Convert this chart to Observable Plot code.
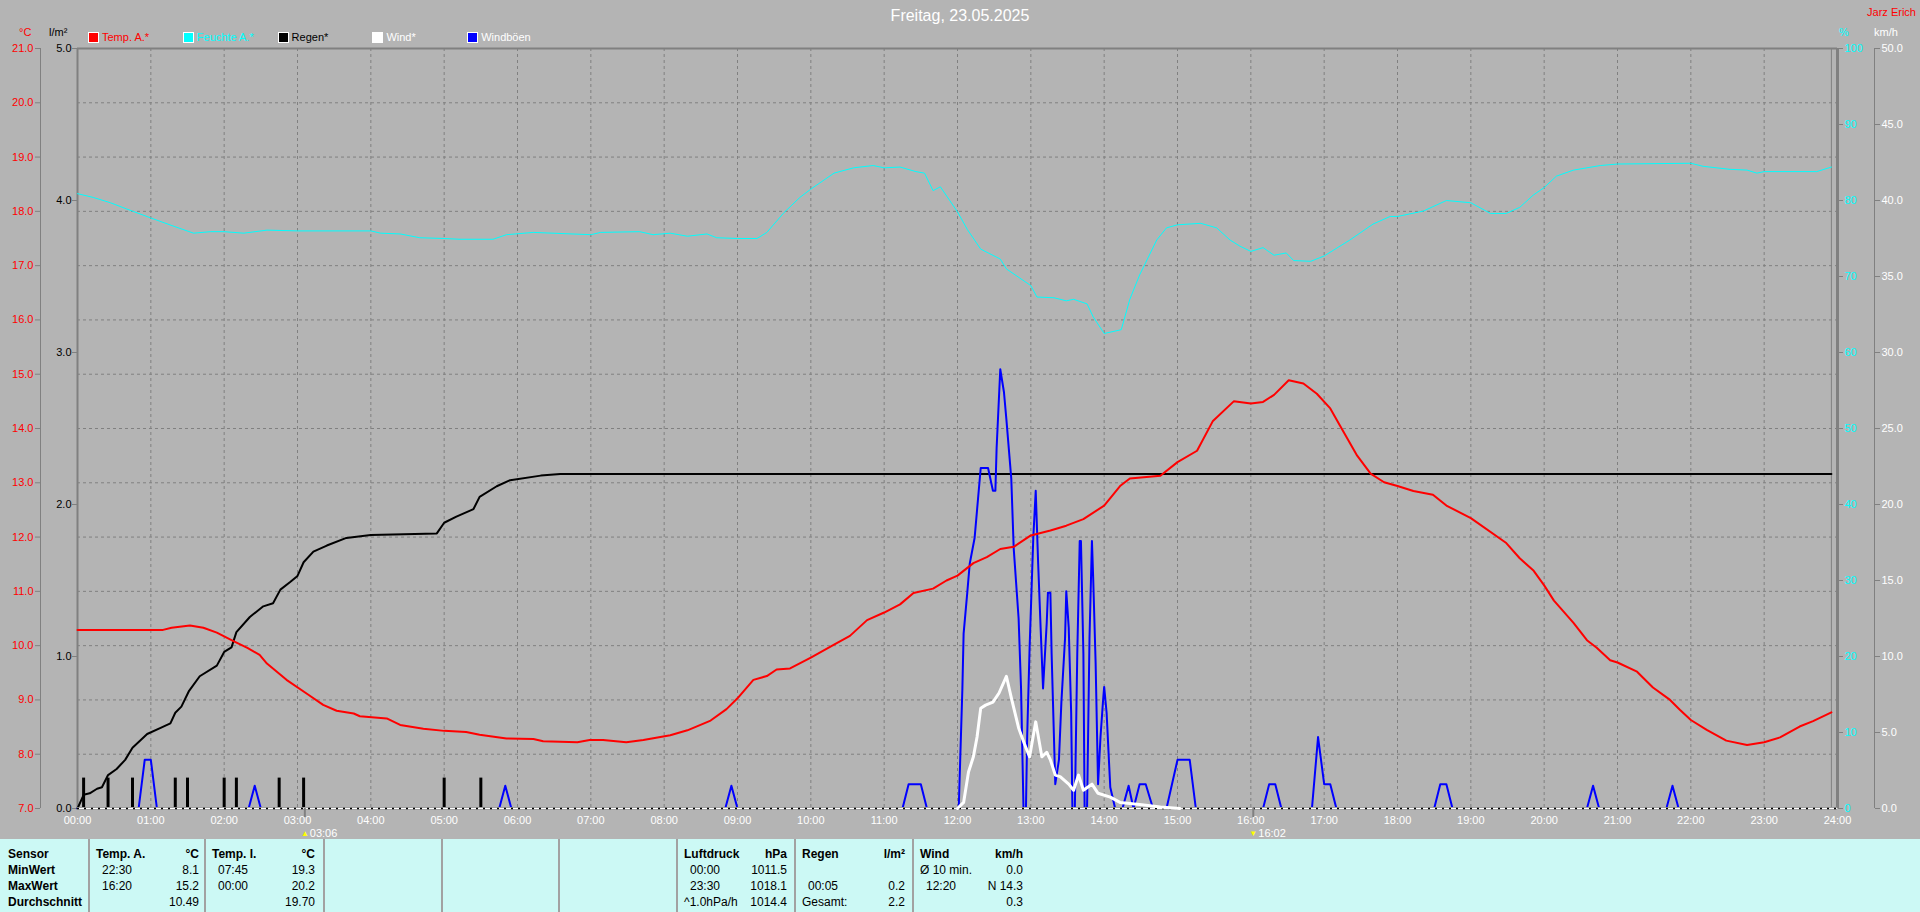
<!DOCTYPE html>
<html>
<head>
<meta charset="utf-8">
<script src="https://cdn.jsdelivr.net/npm/d3@7"></script>
<script src="https://cdn.jsdelivr.net/npm/@observablehq/plot@0.6"></script>
<style>
  body { margin: 0; background: #b4b4b4; font-family: "Liberation Sans", Arial, sans-serif; }
  #wrap { position: relative; width: 1920px; height: 912px; overflow: hidden; background: #b4b4b4; }
  #chart { position: absolute; left: 0; top: 0; }
  .t { position: absolute; white-space: nowrap; font-size: 11px; line-height: 12px; }
  #title { position: absolute; left: 0; top: 7px; width: 1920px; text-align: center; color: #fff; font-size: 16px; line-height: 17px; }
  #table { position: absolute; left: 0; top: 839px; width: 1920px; height: 73px; background: #ccf9f5; }
  .div { position: absolute; top: 0; width: 2px; height: 73px; background: #a2a2a2; }
  .cell { position: absolute; white-space: nowrap; font-size: 12px; line-height: 14px; color: #000; }
  .b { font-weight: bold; }
  .sq { position: absolute; width: 9px; height: 9px; border: 1px solid #fff; }
</style>
</head>
<body>
<div id="wrap">
  <div id="chart"></div>
  <div id="title"></div>
  <div id="table"></div>
</div>
<script>
// ---------------- DATA ----------------
const chartTitle = "Freitag, 23.05.2025";
const author = "Jarz Erich";
const hourLabels = ["00:00","01:00","02:00","03:00","04:00","05:00","06:00","07:00","08:00","09:00","10:00","11:00","12:00",
  "13:00","14:00","15:00","16:00","17:00","18:00","19:00","20:00","21:00","22:00","23:00","24:00"];
const tempTicks = [7,8,9,10,11,12,13,14,15,16,17,18,19,20,21];
const rainTicks = [0,1,2,3,4,5];
const humTicks = [0,10,20,30,40,50,60,70,80,90,100];
const windTicks = [0,5,10,15,20,25,30,35,40,45,50];

const legendNames = ["Temp. A.*","Feuchte A.*","Regen*","Wind*","Windböen"];
const legendColors = ["#ff0000","#00ffff","#000000","#ffffff","#0000ff"];
const legendTextColors = ["#ff0000","#00ffff","#000000","#ffffff","#ffffff"];

// Temperature (°C)
const tempTimes = ["00:00","01:10","01:17","01:32","01:43","01:54","02:08","02:19","02:29","02:35","02:51","03:08","03:21","03:32","03:46","03:51",
  "04:13","04:24","04:43","05:00","05:18","05:29","05:51","06:13","06:21","06:49","06:59","07:10","07:29","07:43","08:05","08:19","08:38",
  "08:51","09:00","09:13","09:24","09:32","09:43","10:00","10:19","10:32","10:46","11:00","11:13","11:24","11:40","11:51","12:00","12:13",
  "12:24","12:35","12:46","13:00","13:16","13:29","13:43","14:00","14:13","14:21","14:46","15:00","15:16","15:29","15:46","16:00","16:10",
  "16:19","16:31","16:43","16:54","17:05","17:13","17:27","17:38","17:49","18:00","18:13","18:29","18:40","19:00","19:29","19:40","19:51",
  "20:00","20:08","20:24","20:35","20:43","20:54","21:00","21:16","21:29","21:43","21:51","22:00","22:13","22:29","22:46","23:00","23:13",
  "23:29","23:40","23:55"];
const tempValues = [10.29,10.29,10.33,10.37,10.33,10.24,10.08,9.96,9.83,9.67,9.37,9.11,8.91,8.80,8.75,8.70,
  8.66,8.54,8.47,8.43,8.41,8.36,8.29,8.28,8.24,8.22,8.26,8.26,8.22,8.26,8.35,8.44,8.62,
  8.83,9.03,9.37,9.44,9.56,9.58,9.78,10.02,10.18,10.47,10.61,10.76,10.97,11.05,11.20,11.29,11.52,
  11.63,11.78,11.82,12.03,12.12,12.21,12.33,12.58,12.94,13.08,13.13,13.38,13.59,14.14,14.50,14.46,14.49,
  14.62,14.89,14.83,14.64,14.37,14.05,13.50,13.17,13.01,12.94,12.85,12.78,12.58,12.35,11.89,11.61,11.39,
  11.11,10.83,10.42,10.10,9.96,9.73,9.69,9.52,9.23,9.00,8.82,8.63,8.45,8.25,8.17,8.22,8.31,
  8.51,8.61,8.77];

// Humidity (%)
const humTimes = ["00:00","00:13","00:27","00:40","01:00","01:19","01:35","01:49","02:00","02:16","02:35","03:00","04:00","04:08","04:24",
  "04:40","05:00","05:13","05:40","05:51","06:13","07:00","07:08","07:40","07:51","08:05","08:19","08:35","08:43","09:00","09:16","09:24",
  "09:38","09:51","10:00","10:19","10:35","10:51","11:00","11:13","11:26","11:33","11:40","11:46","12:00","12:08","12:19","12:35","12:40",
  "13:00","13:05","13:19","13:29","13:35","13:46","13:51","14:00","14:14","14:21","14:29","14:43","14:51","15:00","15:19","15:32","15:43",
  "15:51","16:00","16:10","16:19","16:29","16:35","16:49","17:00","17:21","17:40","17:54","18:00","18:21","18:40","19:00","19:16","19:29",
  "19:40","19:51","20:00","20:10","20:24","20:46","21:00","22:00","22:10","22:32","22:46","22:54","23:00","23:43","23:55"];
const humValues = [80.9,80.4,79.7,78.9,77.7,76.6,75.7,75.9,75.9,75.7,76.1,76.0,76.0,75.7,75.6,
  75.1,75.0,74.9,74.9,75.5,75.8,75.5,75.8,75.9,75.5,75.7,75.3,75.6,75.1,75.0,75.0,75.8,
  78.4,80.4,81.5,83.6,84.3,84.6,84.3,84.4,83.8,83.6,81.3,81.8,78.5,76.2,73.6,72.3,71.0,
  68.8,67.3,67.2,66.8,67.0,66.4,64.7,62.5,63.0,67.0,70.2,74.8,76.4,76.8,77.0,76.4,74.8,
  74.0,73.3,73.8,72.8,73.1,72.1,72.0,72.7,74.8,76.9,77.9,77.9,78.6,80.0,79.7,78.3,78.3,
  79.1,80.7,81.7,83.2,84.0,84.6,84.8,84.9,84.5,84.1,84.0,83.6,83.8,83.8,84.4];

// Cumulative rain (l/m²)
const rainTimes = ["00:00","00:05","00:10","00:16","00:20","00:25","00:32","00:39","00:45","00:57","01:08","01:16","01:20","01:25","01:31",
  "01:40","01:54","02:00","02:06","02:10","02:21","02:32","02:40","02:46","02:54","03:00","03:05","03:13","03:24","03:40","04:00","04:54",
  "05:00","05:10","05:24","05:29","05:43","05:54","06:19","06:35","23:55"];
const rainValues = [0,0.09,0.10,0.13,0.14,0.22,0.26,0.32,0.40,0.49,0.53,0.56,0.63,0.67,0.77,
  0.87,0.94,1.03,1.06,1.16,1.26,1.33,1.35,1.44,1.49,1.53,1.62,1.69,1.73,1.78,1.80,1.81,
  1.88,1.92,1.97,2.05,2.12,2.16,2.19,2.20,2.20];

// Rain per interval (l/m²)
const rainBarTimes = ["00:05","00:25","00:45","01:20","01:30","02:00","02:10","02:45","03:05","05:00","05:30"];
const rainBarValues = [0.2,0.2,0.2,0.2,0.2,0.2,0.2,0.2,0.2,0.2,0.2];

// Wind gusts (km/h)
const gustTimes = ["00:00","00:50","00:55","01:00","01:05","02:20","02:25","02:30","05:45","05:50","05:55","08:50","08:55","09:00",
  "11:15","11:20","11:30","11:35","12:01","12:04","12:05","12:08","12:10","12:14","12:19","12:25","12:29","12:31","12:32","12:35","12:38",
  "12:40","12:44","12:46","12:50","12:52","12:54","12:56","12:57","12:59","13:02","13:04","13:06","13:08","13:10","13:13","13:14","13:16",
  "13:17","13:20","13:23","13:25","13:28","13:29","13:31","13:33","13:34","13:36","13:38","13:40","13:41","13:43","13:44","13:46","13:48",
  "13:50","13:51","13:53","13:55","13:57","13:59","14:00","14:02","14:04","14:05","14:09","14:15","14:20","14:24","14:29","14:34","14:40",
  "14:51","15:00","15:10","15:15","16:10","16:15","16:20","16:25","16:50","16:55","17:00","17:05","17:10","18:30","18:35","18:40","18:45",
  "20:35","20:40","20:45","21:40","21:45","21:50","23:55"];
const gustValues = [0,0,3.2,3.2,0,0,1.5,0,0,1.5,0,0,1.5,0,
  0,1.6,1.6,0,0,7.9,11.5,14.2,16.1,17.8,22.4,22.4,20.9,20.9,23.7,28.9,27.4,
  25.6,21.7,17.1,12.5,7.9,0,0,4.7,10.6,17.8,20.9,16.1,11.9,7.9,12.2,14.2,14.2,
  10.2,1.6,3.2,7.0,11.2,14.3,11.9,6.3,0,0,10.2,17.6,17.6,10.2,0,0,11.2,
  17.6,15.2,9.6,1.6,4.7,7.0,8.0,6.3,3.0,1.4,0,0,1.5,0,1.6,1.6,0,
  0,3.2,3.2,0,0,1.6,1.6,0,0,4.7,1.6,1.6,0,0,1.6,1.6,0,
  0,1.5,0,0,1.5,0,0];

// Mean wind (km/h)
const windTimes = ["12:00","12:05","12:09","12:13","12:16","12:19","12:23","12:29","12:34","12:40","12:44","12:50","12:55","12:59","13:04",
  "13:09","13:13","13:16","13:20","13:24","13:31","13:35","13:39","13:43","13:50","13:55","14:05","14:13","14:29","14:46","15:02"];
const windValues = [0,0.4,2.4,3.4,4.7,6.6,6.8,7.0,7.6,8.7,7.3,5.3,4.2,3.4,5.7,
  3.4,3.7,3.2,2.2,2.1,1.6,1.2,2.2,1.2,1.6,1.0,0.75,0.4,0.26,0.1,0];

// Sun events
const sunTimes = ["03:06","16:02"];
const sunKinds = ["up","down"];

// Table
const sensorLabels = ["Sensor","MinWert","MaxWert","Durchschnitt"];
const tableNames = ["Temp. A.","Temp. I.","","","","Luftdruck","Regen","Wind"];
const tableUnits = ["°C","°C","","","","hPa","l/m²","km/h"];
const tableTimes = [["22:30","16:20",""],["07:45","00:00",""],["","",""],["","",""],["","",""],
  ["00:00","23:30","^1.0hPa/h"],["","00:05","Gesamt:"],["Ø 10 min.","12:20",""]];
const tableValues = [["8.1","15.2","10.49"],["19.3","20.2","19.70"],["","",""],["","",""],["","",""],
  ["1011.5","1018.1","1014.4"],["","0.2","2.2"],["0.0","N 14.3","0.3"]];

// ---------------- HELPERS ----------------
const T0 = 7, T1 = 21;
const toH = s => { const [h, m] = s.split(":").map(Number); return h + m / 60; };
const rainY = r => T0 + r * (T1 - T0) / 5;
const humY = h => T0 + h * (T1 - T0) / 100;
const windY = w => T0 + w * (T1 - T0) / 50;
const series = (times, vals, f) => times.map((t, i) => ({x: toH(t), y: f(vals[i])}));

const tempData = series(tempTimes, tempValues, v => v);
const humData = series(humTimes, humValues, humY);
const rainData = series(rainTimes, rainValues, rainY);
const rainBars = series(rainBarTimes, rainBarValues, rainY);
const gustData = series(gustTimes, gustValues, windY);
const windData = series(windTimes, windValues, windY);
const sunData = sunTimes.map((t, i) => ({x: toH(t), label: t, kind: sunKinds[i]}));
const lastT = toH(tempTimes[tempTimes.length - 1]);

const grey = "#808080";

const chart = Plot.plot({
  width: 1920, height: 839,
  marginLeft: 77, marginRight: 83, marginTop: 48, marginBottom: 31,
  style: {background: "transparent", fontFamily: "Liberation Sans, Arial, sans-serif", fontSize: "11px", overflow: "visible"},
  x: {domain: [0, 24], label: null},
  y: {domain: [T0, T1], label: null},
  marks: [
    Plot.gridY(tempTicks.slice(1, -1), {stroke: grey, strokeOpacity: 1, strokeDasharray: "3,3"}),
    Plot.gridX(d3.range(1, 24), {stroke: grey, strokeOpacity: 1, strokeDasharray: "3,3"}),
    // frame & axis lines
    Plot.ruleY([T1], {stroke: grey, strokeWidth: 2}),
    Plot.ruleX([0], {stroke: grey, strokeWidth: 2}),
    Plot.ruleX([24], {stroke: grey, strokeWidth: 3}),
    Plot.ruleX([lastT], {stroke: grey, strokeWidth: 1}),
    Plot.ruleX([0], {stroke: grey, strokeWidth: 1, dx: -37}),
    Plot.ruleX([24], {stroke: grey, strokeWidth: 1, dx: 37}),
    // axes
    Plot.axisY(tempTicks, {anchor: "left", dx: -37, tickSize: 5, tickPadding: 2, stroke: grey, fill: "#ff0000",
      tickFormat: d => d.toFixed(1), label: null}),
    Plot.axisY(rainTicks.map(rainY), {anchor: "left", tickSize: 5, tickPadding: 1, stroke: grey, fill: "#000",
      tickFormat: d => ((d - T0) * 5 / (T1 - T0)).toFixed(1), label: null}),
    Plot.axisY(humTicks.map(humY), {anchor: "right", tickSize: 5, tickPadding: 2, stroke: grey, fill: "#00ffff",
      tickFormat: d => String(Math.round((d - T0) * 100 / (T1 - T0))), label: null}),
    Plot.axisY(windTicks.map(windY), {anchor: "right", dx: 37, tickSize: 5, tickPadding: 2, stroke: grey, fill: "#fff",
      tickFormat: d => ((d - T0) * 50 / (T1 - T0)).toFixed(1), label: null}),
    Plot.axisX(d3.range(0, 25), {anchor: "bottom", tickSize: 0, tickPadding: 8, fill: "#fff",
      tickFormat: i => hourLabels[i], label: null}),
    // series
    Plot.line(humData, {x: "x", y: "y", stroke: "#00ffff", strokeWidth: 1}),
    Plot.ruleX(rainBars, {x: "x", y1: T0, y2: "y", stroke: "#000", strokeWidth: 3}),
    Plot.line(rainData, {x: "x", y: "y", stroke: "#000", strokeWidth: 2}),
    Plot.line(gustData, {x: "x", y: "y", stroke: "#0000ff", strokeWidth: 2}),
    // baseline (dotted) over the zero parts of the gust line
    Plot.ruleY([T0], {stroke: grey, strokeWidth: 3, dy: 0}),
    Plot.ruleY([T0], {stroke: "#fff", strokeWidth: 1.5}),
    Plot.ruleY([T0], {stroke: "#000", strokeWidth: 1.5, strokeDasharray: "2,5"}),
    Plot.line(windData, {x: "x", y: "y", stroke: "#fff", strokeWidth: 3}),
    Plot.line(tempData, {x: "x", y: "y", stroke: "#ff0000", strokeWidth: 2}),
    // sun markers
    Plot.ruleX(sunData, {x: "x", y1: T0, y2: T0, insetBottom: -9, stroke: grey, strokeWidth: 2}),
    Plot.text(sunData, {x: "x", y: T0, text: d => d.kind === "up" ? "▲" : "▼", fill: "#ffff00", fontSize: 8, dy: 25}),
    Plot.text(sunData, {x: "x", y: T0, text: "label", fill: "#fff", fontSize: 11, dy: 25, dx: 5, textAnchor: "start"})
  ]
});
document.getElementById("chart").appendChild(chart);

// ---------------- OVERLAY TEXT ----------------
const wrap = document.getElementById("wrap");
function addText(txt, css, cls = "t") {
  const d = document.createElement("div");
  d.className = cls; d.textContent = txt;
  Object.assign(d.style, css);
  wrap.appendChild(d);
  return d;
}
document.getElementById("title").textContent = chartTitle;
addText(author, {right: "4px", top: "6px", color: "#ff0000"});
addText("°C", {left: "19px", top: "26px", color: "#ff0000"});
addText("l/m²", {left: "49px", top: "26px", color: "#000"});
addText("%", {left: "1839px", top: "26px", color: "#00ffff"});
addText("km/h", {left: "1874px", top: "26px", color: "#fff"});

legendNames.forEach((name, i) => {
  const x = 88 + i * 94.8;
  const sq = document.createElement("div");
  sq.className = "sq";
  Object.assign(sq.style, {left: x + "px", top: "32px", background: legendColors[i]});
  wrap.appendChild(sq);
  addText(name, {left: (x + 14) + "px", top: "31px", color: legendTextColors[i]});
});

// ---------------- TABLE ----------------
const table = document.getElementById("table");
const rowTop = [8, 24, 40, 56];
function cell(txt, css, bold) {
  const d = document.createElement("div");
  d.className = "cell" + (bold ? " b" : "");
  d.textContent = txt;
  Object.assign(d.style, css);
  table.appendChild(d);
}
sensorLabels.forEach((s, r) => cell(s, {left: "8px", top: rowTop[r] + "px"}, true));
const colLeft = [89, 205, 324, 442, 559, 677, 795, 913];
colLeft.forEach((L, c) => {
  const dv = document.createElement("div");
  dv.className = "div"; dv.style.left = (L - 1) + "px";
  table.appendChild(dv);
  if (!tableNames[c]) return;
  cell(tableNames[c], {left: (L + 7) + "px", top: rowTop[0] + "px"}, true);
  cell(tableUnits[c], {left: (L + 60) + "px", width: "50px", textAlign: "right", top: rowTop[0] + "px"}, true);
  tableTimes[c].forEach((t, r) => {
    if (t) cell(t, {left: (L + (/^\d/.test(t) ? 13 : 7)) + "px", top: rowTop[r + 1] + "px"});
  });
  tableValues[c].forEach((v, r) => {
    if (v) cell(v, {left: (L + 50) + "px", width: "60px", textAlign: "right", top: rowTop[r + 1] + "px"});
  });
});
</script>
</body>
</html>
